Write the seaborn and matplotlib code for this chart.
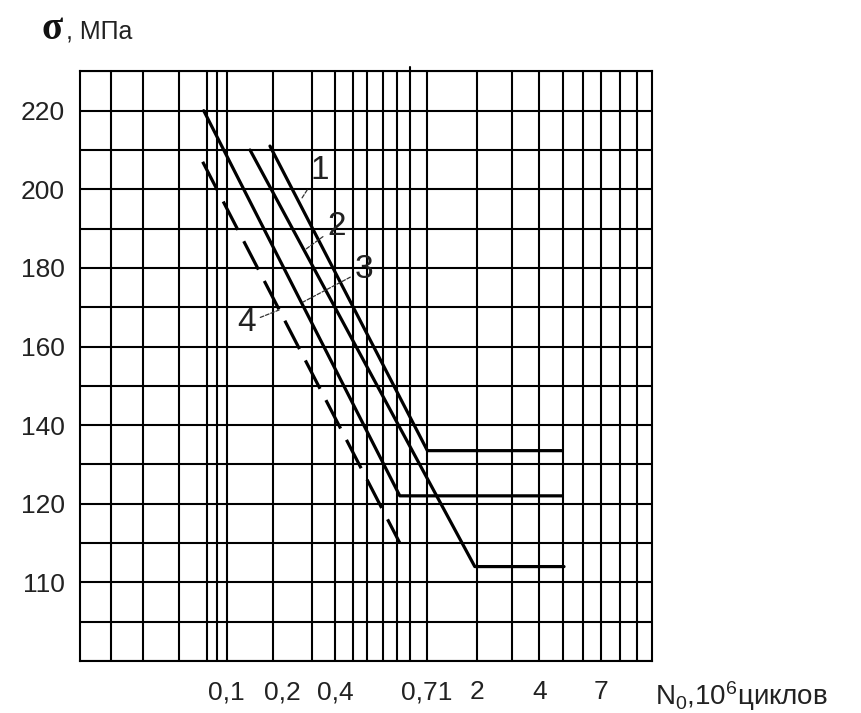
import numpy as np
import pandas as pd
import matplotlib
matplotlib.use("Agg")
import matplotlib.pyplot as plt
import seaborn as sns

# axis ticks (the chart uses non-uniform scales)
x_ticks = [0.1, 0.2, 0.4, 0.71, 2, 4, 7]
x_tick_labels = ["0,1", "0,2", "0,4", "0,71", "2", "4", "7"]
y_ticks = [110, 120, 140, 160, 180, 200, 220]
y_grid = [100, 105, 110, 115, 120, 130, 140, 150, 160, 170, 180, 190, 200, 210, 220, 230]

# fatigue curves: N (10^6 cycles) and sigma (MPa)
curve1_n = [0.172, 0.72, 4.9]
curve1_s = [211, 133.5, 133.5]
curve2_n = [0.134, 1.9, 5.0]
curve2_s = [210, 112, 112]
curve3_n = [0.075, 0.6, 4.9]
curve3_s = [220, 122, 122]
curve4_n = [0.074, 0.6]
curve4_s = [207, 115]

# curve numbers: label, text position (N, sigma), leader end on the curve (N, sigma)
curve_labels = ["1", "2", "3", "4"]
label_text_pos = [(0.329, 204.9), (0.404, 190.5), (0.48, 179.5), (0.128, 166.0)]
label_line_pos = [(0.259, 197.7), (0.270, 184.6), (0.263, 171.3), (0.193, 169.3)]

# layout of the drawn scale (pixels from the left frame edge)
AX_W = 571.7
X_TICK_PX = [146.7, 202, 255, 346.7, 397.3, 459.3, 521.3]
V_GRID_PX = [30.7, 62.7, 99.3, 126.7, 136.7, 146.7, 193.3, 232.3, 255, 273.3,
             286.7, 302.7, 316.7, 330, 346.7, 397.3, 431.7, 459.3, 482.7,
             502.7, 521.3, 540, 556.7]


def interp_ext(x, xp, fp):
    x = np.asarray(x, dtype=float)
    xp = np.asarray(xp, dtype=float)
    fp = np.asarray(fp, dtype=float)
    y = np.interp(x, xp, fp)
    lo_slope = (fp[1] - fp[0]) / (xp[1] - xp[0])
    hi_slope = (fp[-1] - fp[-2]) / (xp[-1] - xp[-2])
    y = np.where(x < xp[0], fp[0] + (x - xp[0]) * lo_slope, y)
    y = np.where(x > xp[-1], fp[-1] + (x - xp[-1]) * hi_slope, y)
    return y


log_ticks = np.log10(x_ticks)
y_pos = np.arange(len(y_ticks))


def x_fwd(v):
    return interp_ext(np.log10(np.clip(np.asarray(v, dtype=float), 1e-9, None)), log_ticks, X_TICK_PX)


def x_inv(p):
    return 10 ** interp_ext(p, X_TICK_PX, log_ticks)


def y_fwd(v):
    return interp_ext(v, y_ticks, y_pos)


def y_inv(p):
    return interp_ext(p, y_pos, y_ticks)


sns.set_theme(style="white")
plt.rcParams['font.family'] = ['Liberation Sans', 'DejaVu Sans']
plt.rcParams['mathtext.fontset'] = 'custom'
plt.rcParams['mathtext.rm'] = 'Liberation Sans'
plt.rcParams['mathtext.it'] = 'Liberation Sans'

fig = plt.figure(figsize=(8.62, 7.13), dpi=100)
ax = fig.add_axes([80 / 862, 52.1 / 713, AX_W / 862, 589.5 / 713])
ax.set_xscale('function', functions=(x_fwd, x_inv))
ax.set_yscale('function', functions=(y_fwd, y_inv))

curves = [(curve1_n, curve1_s, '-'), (curve2_n, curve2_s, '-'),
          (curve3_n, curve3_s, '-'), (curve4_n, curve4_s, (0, (10, 4)))]
for n, s, ls in curves:
    df = pd.DataFrame({'N': n, 'sigma': s})
    sns.lineplot(data=df, x='N', y='sigma', ax=ax, color='black', linewidth=2.3,
                 linestyle=ls, estimator=None, sort=False, zorder=3)

ax.set_xlim(float(x_inv(0)), float(x_inv(AX_W)))
ax.set_ylim(100, 230)

# grid
ax.set_yticks(y_grid, minor=True)
ax.set_yticks(y_ticks)
ax.set_yticklabels([str(t) for t in y_ticks])
ax.set_xticks(x_ticks)
ax.set_xticklabels(x_tick_labels)
ax.grid(False)
ax.yaxis.grid(True, which='both', color='black', linewidth=1.5)
for px in V_GRID_PX:
    top = 1.007 if px == 330 else 1
    ax.plot([px / AX_W, px / AX_W], [0, top], transform=ax.transAxes,
            color='black', linewidth=1.5, clip_on=False, zorder=1)
for sp in ax.spines.values():
    sp.set_color('black')
    sp.set_linewidth(1.5)

ax.tick_params(axis='both', which='both', length=0, labelsize=19, colors='#222222')
ax.tick_params(axis='x', pad=14)
ax.tick_params(axis='y', pad=11)
ax.set_xlabel('')
ax.set_ylabel('')

# curve numbers with leaders
for lab, tp, lp in zip(curve_labels, label_text_pos, label_line_pos):
    ax.annotate(lab, xy=lp, xytext=tp, fontsize=24, ha='center', va='center',
                color='#222222',
                arrowprops=dict(arrowstyle='-', linestyle=(0, (3, 1.5)),
                                linewidth=0.9, color='#333333',
                                shrinkA=1, shrinkB=0))

# axis titles
ax.text((42 - 80) / AX_W, 1.055, 'σ', transform=ax.transAxes, fontsize=28,
        fontweight='bold', family=['Liberation Serif', 'DejaVu Serif'],
        ha='left', va='baseline', color='#111111')
ax.text((66 - 80) / AX_W, 1.055, ', МПа', transform=ax.transAxes, fontsize=18,
        ha='left', va='baseline', color='#222222')
ax.text((655 - 80) / AX_W, -0.0748, r'N$_0$,10$^6$циклов', transform=ax.transAxes,
        fontsize=20, ha='left', va='baseline', color='#222222', clip_on=False)

fig.savefig('out.png', dpi=100)
